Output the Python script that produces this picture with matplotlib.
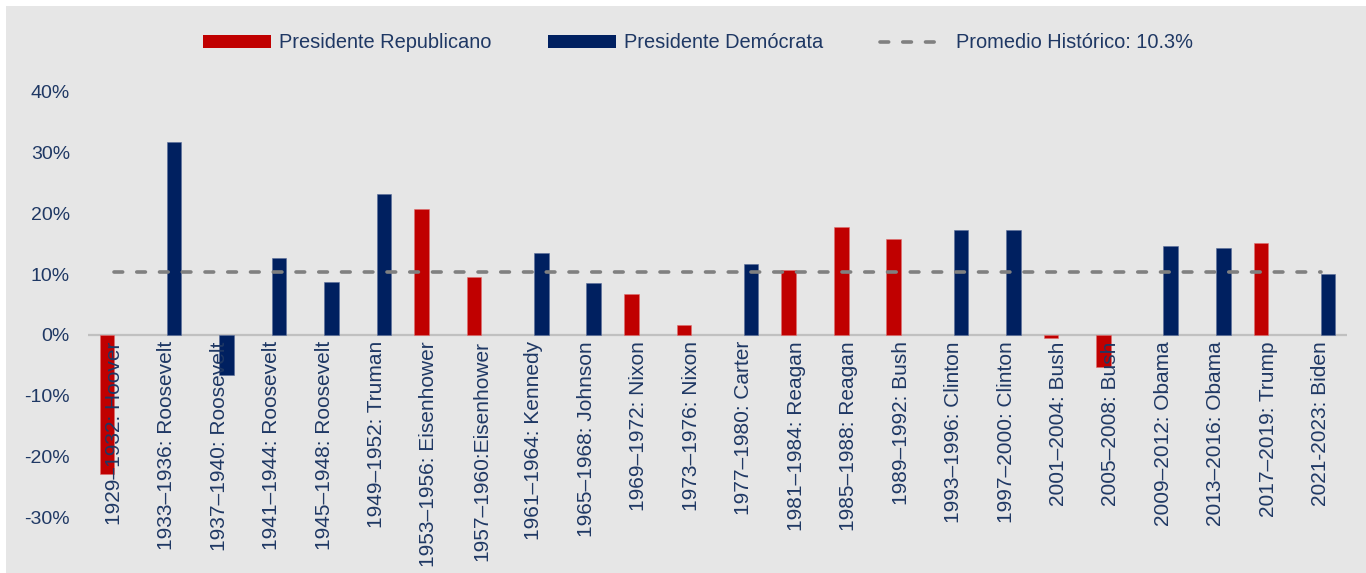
import numpy as np
import matplotlib
matplotlib.use("Agg")
import matplotlib.pyplot as plt
from matplotlib.patches import Patch, Rectangle
from matplotlib.lines import Line2D

plt.rcParams["font.family"] = ["Liberation Sans", "DejaVu Sans"]

# Rendimiento anual promedio del S&P 500 por mandato presidencial
periodos = [
    "1929–1932: Hoover", "1933–1936: Roosevelt", "1937–1940: Roosevelt",
    "1941–1944: Roosevelt", "1945–1948: Roosevelt", "1949–1952: Truman",
    "1953–1956: Eisenhower", "1957–1960:Eisenhower", "1961–1964: Kennedy",
    "1965–1968: Johnson", "1969–1972: Nixon", "1973–1976: Nixon",
    "1977–1980: Carter", "1981–1984: Reagan", "1985–1988: Reagan",
    "1989–1992: Bush", "1993–1996: Clinton", "1997–2000: Clinton",
    "2001–2004: Bush", "2005–2008: Bush", "2009–2012: Obama",
    "2013–2016: Obama", "2017–2019: Trump", "2021-2023: Biden",
]
partido = ["R", "D", "D", "D", "D", "D", "R", "R", "D", "D", "R", "R",
           "D", "R", "R", "R", "D", "D", "R", "R", "D", "D", "R", "D"]
retorno = [-22.9, 31.7, -6.6, 12.6, 8.7, 23.1, 20.7, 9.5, 13.4, 8.6, 6.7, 1.6,
           11.6, 10.7, 17.8, 15.7, 17.2, 17.2, -0.5, -5.3, 14.6, 14.3, 15.2, 10.0]
promedio = 10.3

ROJO = "#C00000"
AZUL = "#002060"
TEXTO = "#1F3864"
FONDO = "#E6E6E6"

x = np.arange(len(periodos))
ret = np.array(retorno) / 100.0
rep = np.array([p == "R" for p in partido])
ancho = 0.28

fig = plt.figure(figsize=(13.66, 5.73), dpi=100, facecolor="white")
fig.patches.append(Rectangle((6 / 1366, 0), 1, 1 - 6 / 573, transform=fig.transFigure,
                             facecolor=FONDO, edgecolor="none", zorder=-10))

ax = fig.add_axes([88 / 1366, 0.0974, (1347 - 88) / 1366, 0.8398 - 0.0974])
ax.set_facecolor(FONDO)
ax.patch.set_alpha(0)

ax.bar(x[rep], ret[rep], width=-ancho, align="edge", color=ROJO,
       edgecolor="#E07070", linewidth=0.4, zorder=2)
ax.bar(x[~rep], ret[~rep], width=ancho, align="edge", color=AZUL,
       edgecolor="#5A6E9A", linewidth=0.4, zorder=2)

ax.plot(x, np.full(len(x), promedio / 100.0), color="#808080", linewidth=2.6,
        dashes=(2.4, 3.9), dash_capstyle="round", zorder=3)
ax.axhline(0, color="#C0C0C0", linewidth=1.6, zorder=1)

ax.set_xlim(-0.5, len(x) - 0.5)
ax.set_ylim(-0.30, 0.40)
ax.set_yticks(np.arange(-0.30, 0.41, 0.10))
ax.set_yticklabels([f"{int(round(v * 100))}%" for v in np.arange(-0.30, 0.41, 0.10)])
ax.tick_params(axis="y", length=0, pad=13, labelsize=14, labelcolor=TEXTO)
ax.set_xticks([])
for s in ax.spines.values():
    s.set_visible(False)

for xi, etiqueta in zip(x, periodos):
    ax.annotate(etiqueta, xy=(xi, 0), xytext=(0, -4.5), textcoords="offset points",
                rotation=90, ha="center", va="top", fontsize=15, color=TEXTO,
                annotation_clip=False, zorder=4)

handles = [
    Patch(facecolor=ROJO, edgecolor="none"),
    Patch(facecolor=AZUL, edgecolor="none"),
    Line2D([0], [0], color="#808080", linewidth=2.6, dashes=(2.4, 3.9),
           dash_capstyle="round"),
]
labels = ["Presidente Republicano", "Presidente Demócrata",
          f"Promedio Histórico: {promedio}%"]
fig.legend(handles, labels, loc="center", bbox_to_anchor=(698 / 1366, 1 - 43 / 573),
           ncol=3, frameon=False, fontsize=14.4, labelcolor=TEXTO,
           handlelength=3.4, handleheight=0.6, handletextpad=0.4,
           columnspacing=2.85)

fig.savefig("out.png", dpi=100, facecolor=fig.get_facecolor())
